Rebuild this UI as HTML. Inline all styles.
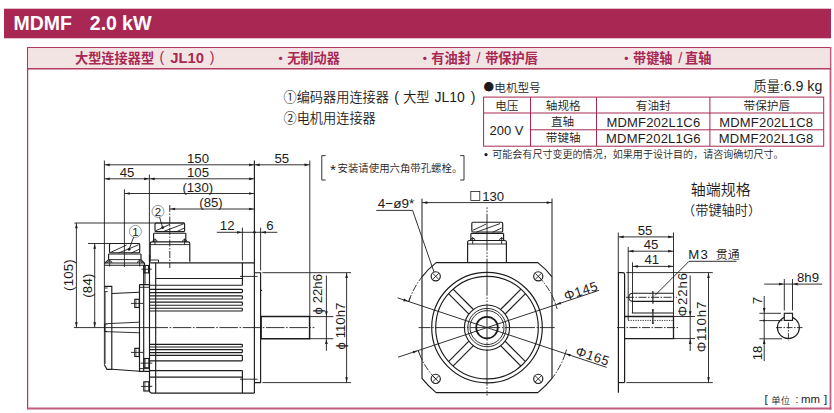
<!DOCTYPE html>
<html lang="zh"><head><meta charset="utf-8"><title>MDMF 2.0 kW</title>
<style>
html,body{margin:0;padding:0;background:#fff;}
body{width:834px;height:413px;overflow:hidden;}
svg{display:block;font-family:"Liberation Sans","Noto Sans CJK SC",sans-serif;font-weight:350;}
</style></head><body>
<svg width="834" height="413" viewBox="0 0 834 413">
<rect x="4" y="8.7" width="827" height="29.6" fill="#a82853"/>
<text x="13.40" y="30.30" font-size="19.5" text-anchor="start" fill="#fff" font-weight="bold">MDMF</text>
<text x="89.80" y="30.30" font-size="19.5" text-anchor="start" fill="#fff" font-weight="bold">2.0</text>
<text x="121.90" y="30.30" font-size="19.8" text-anchor="start" fill="#fff" font-weight="bold">kW</text>
<line x1="27.60" y1="46.90" x2="27.60" y2="409.60" stroke="#ae3860" stroke-width="1.25"/>
<line x1="27.00" y1="47.50" x2="831.20" y2="47.50" stroke="#ae3860" stroke-width="1.25"/>
<line x1="830.50" y1="46.90" x2="830.50" y2="409.60" stroke="#c25d80" stroke-width="1.8"/>
<line x1="27.00" y1="408.60" x2="831.40" y2="408.60" stroke="#c25d80" stroke-width="2.0"/>
<rect x="28.2" y="48.1" width="801.4" height="20" fill="#f3e4e4"/>
<line x1="27.70" y1="68.70" x2="830.50" y2="68.70" stroke="#b23d64" stroke-width="1.4"/>
<text x="75.00" y="62.60" font-size="13.2" text-anchor="start" fill="#a82853" font-weight="bold">大型连接器型</text>
<text x="159.60" y="62.20" font-size="14" text-anchor="start" fill="#a82853">(</text>
<text x="170.20" y="62.60" font-size="14.8" text-anchor="start" fill="#a82853" font-weight="bold">JL10</text>
<text x="209.80" y="62.20" font-size="14" text-anchor="start" fill="#a82853">)</text>
<text x="274.00" y="62.60" font-size="13.2" text-anchor="start" fill="#a82853" font-weight="bold">・无制动器</text>
<text x="418.20" y="62.60" font-size="13.2" text-anchor="start" fill="#a82853" font-weight="bold">・有油封</text>
<text x="478.60" y="62.60" font-size="14.5" text-anchor="middle" fill="#a82853">/</text>
<text x="485.20" y="62.60" font-size="13.2" text-anchor="start" fill="#a82853" font-weight="bold">带保护唇</text>
<text x="619.80" y="62.60" font-size="13.2" text-anchor="start" fill="#a82853" font-weight="bold">・带键轴</text>
<text x="680.20" y="62.60" font-size="14.5" text-anchor="middle" fill="#a82853">/</text>
<text x="685.00" y="62.60" font-size="13.2" text-anchor="start" fill="#a82853" font-weight="bold">直轴</text>
<text x="283.50" y="101.80" font-size="13.2" text-anchor="start" fill="#1d1b1b">①编码器用连接器</text>
<text x="394.20" y="101.60" font-size="14" text-anchor="start" fill="#1d1b1b">(</text>
<text x="403.20" y="101.80" font-size="13.2" text-anchor="start" fill="#1d1b1b">大型</text>
<text x="434.40" y="101.80" font-size="14" text-anchor="start" fill="#1d1b1b">JL10</text>
<text x="470.80" y="101.60" font-size="14" text-anchor="start" fill="#1d1b1b">)</text>
<text x="283.50" y="123.40" font-size="13.2" text-anchor="start" fill="#1d1b1b">②电机用连接器</text>
<text x="483.60" y="91.30" font-size="10.5" text-anchor="start" fill="#1d1b1b" font-family="Noto Sans CJK SC,sans-serif">●</text>
<text x="494.30" y="91.50" font-size="11.6" text-anchor="start" fill="#1d1b1b">电机型号</text>
<text x="822.30" y="90.60" font-size="13.2" text-anchor="end" fill="#1d1b1b">质量:<tspan font-size="14.2">6.9 kg</tspan></text>
<rect x="483.60" y="97.10" width="340.10" height="49.10" rx="0" fill="none" stroke="#a82853" stroke-width="1.0"/>
<line x1="483.60" y1="113.00" x2="823.70" y2="113.00" stroke="#a82853" stroke-width="1.0"/>
<line x1="530.50" y1="129.80" x2="823.70" y2="129.80" stroke="#a82853" stroke-width="1.0"/>
<line x1="530.50" y1="97.10" x2="530.50" y2="146.20" stroke="#a82853" stroke-width="1.0"/>
<line x1="596.50" y1="97.10" x2="596.50" y2="146.20" stroke="#a82853" stroke-width="1.0"/>
<line x1="709.90" y1="97.10" x2="709.90" y2="146.20" stroke="#a82853" stroke-width="1.0"/>
<text x="506.80" y="109.50" font-size="11.6" text-anchor="middle" fill="#1d1b1b">电压</text>
<text x="563.20" y="109.50" font-size="11.6" text-anchor="middle" fill="#1d1b1b">轴规格</text>
<text x="653.20" y="109.50" font-size="11.6" text-anchor="middle" fill="#1d1b1b">有油封</text>
<text x="766.80" y="109.50" font-size="11.6" text-anchor="middle" fill="#1d1b1b">带保护唇</text>
<text x="506.50" y="135.20" font-size="13" text-anchor="middle" fill="#1d1b1b">200 V</text>
<text x="562.60" y="126.40" font-size="11.6" text-anchor="middle" fill="#1d1b1b">直轴</text>
<text x="563.20" y="142.40" font-size="11.6" text-anchor="middle" fill="#1d1b1b">带键轴</text>
<text x="653.40" y="126.60" font-size="13" text-anchor="middle" fill="#1d1b1b" letter-spacing="0.2">MDMF202L1C6</text>
<text x="766.20" y="126.60" font-size="13" text-anchor="middle" fill="#1d1b1b" letter-spacing="0.2">MDMF202L1C8</text>
<text x="653.40" y="143.00" font-size="13" text-anchor="middle" fill="#1d1b1b" letter-spacing="0.2">MDMF202L1G6</text>
<text x="766.20" y="143.00" font-size="13" text-anchor="middle" fill="#1d1b1b" letter-spacing="0.2">MDMF202L1G8</text>
<circle cx="486.00" cy="154.60" r="1.60" fill="#1d1b1b" stroke="#1d1b1b" stroke-width="0"/>
<text x="492.20" y="158.00" font-size="10.05" text-anchor="start" fill="#1d1b1b">可能会有尺寸变更的情况，如果用于设计目的，请咨询确切尺寸。</text>
<path d="M325.6,155.6 H321.8 V180 H325.6" fill="none" stroke="#1d1b1b" stroke-width="0.9"/>
<path d="M460.2,155.6 H464 V180 H460.2" fill="none" stroke="#1d1b1b" stroke-width="0.9"/>
<text x="330.00" y="175.20" font-size="15.5" text-anchor="start" fill="#1d1b1b">*</text>
<text x="337.60" y="171.60" font-size="10.4" text-anchor="start" fill="#1d1b1b">安装请使用六角带孔螺栓。</text>
<text x="764.40" y="403.40" font-size="11.5" text-anchor="start" fill="#1d1b1b">[</text>
<text x="771.30" y="403.60" font-size="9.4" text-anchor="start" fill="#1d1b1b">单位</text>
<text x="797.00" y="402.80" font-size="10.5" text-anchor="middle" fill="#1d1b1b">:</text>
<text x="801.00" y="403.40" font-size="11.4" text-anchor="start" fill="#1d1b1b">mm</text>
<text x="823.90" y="403.40" font-size="11.5" text-anchor="start" fill="#1d1b1b">]</text>
<line x1="104.40" y1="160.50" x2="104.40" y2="364.70" stroke="#1d1b1b" stroke-width="0.9"/>
<line x1="149.40" y1="174.60" x2="149.40" y2="262.00" stroke="#1d1b1b" stroke-width="0.9"/>
<line x1="124.40" y1="189.30" x2="124.40" y2="267.00" stroke="#1d1b1b" stroke-width="0.9"/>
<line x1="169.80" y1="205.00" x2="169.80" y2="268.00" stroke="#1d1b1b" stroke-width="0.9" stroke-dasharray="7 1.5 1.5 1.5"/>
<line x1="254.40" y1="160.50" x2="254.40" y2="393.00" stroke="#1d1b1b" stroke-width="1.15"/>
<line x1="309.80" y1="160.50" x2="309.80" y2="316.00" stroke="#1d1b1b" stroke-width="0.9"/>
<line x1="242.40" y1="227.70" x2="242.40" y2="260.40" stroke="#1d1b1b" stroke-width="0.9"/>
<line x1="260.60" y1="227.70" x2="260.60" y2="270.50" stroke="#1d1b1b" stroke-width="0.9"/>
<line x1="104.40" y1="164.80" x2="254.40" y2="164.80" stroke="#1d1b1b" stroke-width="0.9"/>
<polygon points="105.10,164.80 109.70,163.45 109.70,166.15" fill="#1d1b1b"/>
<polygon points="253.70,164.80 249.10,166.15 249.10,163.45" fill="#1d1b1b"/>
<text x="198.00" y="162.80" font-size="13.2" text-anchor="middle" fill="#1d1b1b">150</text>
<line x1="254.40" y1="164.80" x2="309.80" y2="164.80" stroke="#1d1b1b" stroke-width="0.9"/>
<polygon points="255.10,164.80 259.70,163.45 259.70,166.15" fill="#1d1b1b"/>
<polygon points="309.10,164.80 304.50,166.15 304.50,163.45" fill="#1d1b1b"/>
<text x="281.80" y="162.80" font-size="13.2" text-anchor="middle" fill="#1d1b1b">55</text>
<line x1="104.40" y1="178.80" x2="149.40" y2="178.80" stroke="#1d1b1b" stroke-width="0.9"/>
<polygon points="105.10,178.80 109.70,177.45 109.70,180.15" fill="#1d1b1b"/>
<polygon points="148.70,178.80 144.10,180.15 144.10,177.45" fill="#1d1b1b"/>
<text x="127.00" y="176.80" font-size="13.2" text-anchor="middle" fill="#1d1b1b">45</text>
<line x1="149.40" y1="178.80" x2="254.40" y2="178.80" stroke="#1d1b1b" stroke-width="0.9"/>
<polygon points="150.10,178.80 154.70,177.45 154.70,180.15" fill="#1d1b1b"/>
<polygon points="253.70,178.80 249.10,180.15 249.10,177.45" fill="#1d1b1b"/>
<text x="198.00" y="176.80" font-size="13.2" text-anchor="middle" fill="#1d1b1b">105</text>
<line x1="124.40" y1="193.50" x2="254.40" y2="193.50" stroke="#1d1b1b" stroke-width="0.9"/>
<polygon points="125.10,193.50 129.70,192.15 129.70,194.85" fill="#1d1b1b"/>
<polygon points="253.70,193.50 249.10,194.85 249.10,192.15" fill="#1d1b1b"/>
<text x="197.80" y="191.60" font-size="13.2" text-anchor="middle" fill="#1d1b1b">(130)</text>
<line x1="169.80" y1="209.00" x2="254.40" y2="209.00" stroke="#1d1b1b" stroke-width="0.9"/>
<polygon points="170.50,209.00 175.10,207.65 175.10,210.35" fill="#1d1b1b"/>
<polygon points="253.70,209.00 249.10,210.35 249.10,207.65" fill="#1d1b1b"/>
<text x="211.00" y="207.20" font-size="13.2" text-anchor="middle" fill="#1d1b1b">(85)</text>
<line x1="216.80" y1="232.30" x2="277.30" y2="232.30" stroke="#1d1b1b" stroke-width="0.9"/>
<polygon points="241.70,232.30 237.10,233.65 237.10,230.95" fill="#1d1b1b"/>
<polygon points="261.30,232.30 265.90,230.95 265.90,233.65" fill="#1d1b1b"/>
<circle cx="254.40" cy="232.30" r="1.30" fill="#1d1b1b" stroke="#1d1b1b" stroke-width="0"/>
<text x="227.20" y="230.30" font-size="13.2" text-anchor="middle" fill="#1d1b1b">12</text>
<text x="270.00" y="230.30" font-size="13.2" text-anchor="middle" fill="#1d1b1b">6</text>
<line x1="74.40" y1="223.00" x2="184.60" y2="223.00" stroke="#1d1b1b" stroke-width="0.9"/>
<line x1="88.00" y1="243.50" x2="139.70" y2="243.50" stroke="#1d1b1b" stroke-width="0.9"/>
<line x1="76.40" y1="223.00" x2="76.40" y2="327.60" stroke="#1d1b1b" stroke-width="0.9"/>
<polygon points="76.40,223.70 77.75,228.30 75.05,228.30" fill="#1d1b1b"/>
<polygon points="76.40,326.90 75.05,322.30 77.75,322.30" fill="#1d1b1b"/>
<line x1="94.70" y1="243.50" x2="94.70" y2="327.60" stroke="#1d1b1b" stroke-width="0.9"/>
<polygon points="94.70,244.20 96.05,248.80 93.35,248.80" fill="#1d1b1b"/>
<polygon points="94.70,326.90 93.35,322.30 96.05,322.30" fill="#1d1b1b"/>
<text x="72.90" y="275.00" font-size="13.2" text-anchor="middle" fill="#1d1b1b" transform="rotate(-90 72.90 275.00)" letter-spacing="0.2">(105)</text>
<text x="91.80" y="285.60" font-size="13.2" text-anchor="middle" fill="#1d1b1b" transform="rotate(-90 91.80 285.60)" letter-spacing="0.2">(84)</text>
<line x1="73.90" y1="327.60" x2="168.00" y2="327.60" stroke="#1d1b1b" stroke-width="0.9"/>
<line x1="169.60" y1="327.60" x2="314.40" y2="327.60" stroke="#1d1b1b" stroke-width="0.9" stroke-dasharray="1.6 1.6 18.5 1.6"/>
<rect x="109.50" y="243.50" width="30.20" height="9.20" rx="1" fill="none" stroke="#1d1b1b" stroke-width="1.15"/>
<line x1="110.60" y1="252.40" x2="126.60" y2="245.00" stroke="#1d1b1b" stroke-width="0.9"/>
<line x1="118.50" y1="253.00" x2="138.60" y2="244.80" stroke="#1d1b1b" stroke-width="0.9"/>
<line x1="131.20" y1="253.00" x2="139.00" y2="249.40" stroke="#1d1b1b" stroke-width="0.9"/>
<path d="M108.6,254 V259.6 M141,254 V259.6 M108.6,254 H141 M108.6,259.6 L105,263 M141,259.6 L144,263" fill="none" stroke="#1d1b1b" stroke-width="1.15"/>
<line x1="108.60" y1="259.60" x2="141.00" y2="259.60" stroke="#1d1b1b" stroke-width="0.9"/>
<path d="M104.4,263 H144.5 V265.2 H104.4" fill="none" stroke="#1d1b1b" stroke-width="1.15"/>
<path d="M107.6,263 A2.2,2.2 0 0 1 112,263 M137.4,263 A2.2,2.2 0 0 1 141.8,263" fill="none" stroke="#1d1b1b" stroke-width="0.9"/>
<line x1="109.70" y1="259.00" x2="109.70" y2="266.50" stroke="#1d1b1b" stroke-width="0.9"/>
<line x1="139.70" y1="259.00" x2="139.70" y2="266.50" stroke="#1d1b1b" stroke-width="0.9"/>
<circle cx="135.40" cy="231.40" r="6.00" fill="none" stroke="#555" stroke-width="0.6"/>
<text x="135.40" y="235.60" font-size="11.5" text-anchor="middle" fill="#1d1b1b">1</text>
<line x1="133.60" y1="237.20" x2="129.20" y2="249.00" stroke="#1d1b1b" stroke-width="0.9"/>
<circle cx="129.10" cy="249.30" r="1.40" fill="#1d1b1b" stroke="#1d1b1b" stroke-width="0"/>
<rect x="155.00" y="223.00" width="29.60" height="8.60" rx="1" fill="none" stroke="#1d1b1b" stroke-width="1.15"/>
<line x1="155.60" y1="230.80" x2="170.20" y2="224.20" stroke="#1d1b1b" stroke-width="0.9"/>
<line x1="163.40" y1="231.50" x2="183.70" y2="223.80" stroke="#1d1b1b" stroke-width="0.9"/>
<line x1="177.00" y1="231.50" x2="184.00" y2="228.20" stroke="#1d1b1b" stroke-width="0.9"/>
<path d="M153.6,233.2 V242 M185.8,233.2 V242 M153.6,233.2 H185.8" fill="none" stroke="#1d1b1b" stroke-width="1.15"/>
<path d="M150.2,261.8 V243.5 Q150.2,241.8 152,241.8 H188 Q189.8,241.8 189.8,243.5 V261.8" fill="none" stroke="#1d1b1b" stroke-width="1.15"/>
<line x1="150.20" y1="244.60" x2="189.80" y2="244.60" stroke="#1d1b1b" stroke-width="0.9"/>
<path d="M152.8,241.8 A2.2,2.2 0 0 1 157.2,241.8 M182.4,241.8 A2.2,2.2 0 0 1 186.8,241.8" fill="none" stroke="#1d1b1b" stroke-width="0.9"/>
<line x1="155.00" y1="238.50" x2="155.00" y2="245.00" stroke="#1d1b1b" stroke-width="0.9"/>
<line x1="184.60" y1="238.50" x2="184.60" y2="245.00" stroke="#1d1b1b" stroke-width="0.9"/>
<circle cx="158.00" cy="211.40" r="6.00" fill="none" stroke="#555" stroke-width="0.6"/>
<text x="158.00" y="215.60" font-size="11.5" text-anchor="middle" fill="#1d1b1b">2</text>
<line x1="159.60" y1="217.20" x2="162.50" y2="227.20" stroke="#1d1b1b" stroke-width="0.9"/>
<circle cx="162.70" cy="227.60" r="1.40" fill="#1d1b1b" stroke="#1d1b1b" stroke-width="0"/>
<line x1="150.20" y1="262.80" x2="254.40" y2="262.80" stroke="#1d1b1b" stroke-width="1.15"/>
<path d="M151,260 H158.5 V262.8" fill="none" stroke="#1d1b1b" stroke-width="0.9"/>
<line x1="155.70" y1="262.80" x2="155.70" y2="393.00" stroke="#1d1b1b" stroke-width="1.15"/>
<path d="M149.5,255 V391.6 L151.5,393.1 H254.4" fill="none" stroke="#1d1b1b" stroke-width="1.15"/>
<line x1="155.70" y1="278.50" x2="242.40" y2="278.50" stroke="#1d1b1b" stroke-width="1.15"/>
<line x1="149.50" y1="285.20" x2="242.40" y2="285.20" stroke="#1d1b1b" stroke-width="1.15"/>
<line x1="242.40" y1="262.80" x2="242.40" y2="285.20" stroke="#1d1b1b" stroke-width="1.15"/>
<path d="M149.5,289.4 H241.6 Q242.4,289.4 242.4,290.2 V291.8 Q242.4,292.6 241.6,292.6 H149.5" fill="none" stroke="#1d1b1b" stroke-width="1.15"/>
<path d="M149.5,295.8 H241.6 Q242.4,295.8 242.4,296.6 V298.2 Q242.4,299 241.6,299 H149.5" fill="none" stroke="#1d1b1b" stroke-width="1.15"/>
<path d="M149.5,302.1 H241.6 Q242.4,302.1 242.4,302.90000000000003 V304.4 Q242.4,305.2 241.6,305.2 H149.5" fill="none" stroke="#1d1b1b" stroke-width="1.15"/>
<path d="M149.5,308.2 H241.6 Q242.4,308.2 242.4,309.0 V310.2 Q242.4,311 241.6,311 H149.5" fill="none" stroke="#1d1b1b" stroke-width="1.15"/>
<path d="M149.5,344.3 H241.6 Q242.4,344.3 242.4,345.1 V346.2 Q242.4,347 241.6,347 H149.5" fill="none" stroke="#1d1b1b" stroke-width="1.15"/>
<path d="M149.5,349.6 H241.6 Q242.4,349.6 242.4,350.40000000000003 V351.8 Q242.4,352.6 241.6,352.6 H149.5" fill="none" stroke="#1d1b1b" stroke-width="1.15"/>
<path d="M149.5,355.4 H241.6 Q242.4,355.4 242.4,356.2 V360.0 Q242.4,360.8 241.6,360.8 H149.5" fill="none" stroke="#1d1b1b" stroke-width="1.15"/>
<line x1="149.50" y1="370.60" x2="242.40" y2="370.60" stroke="#1d1b1b" stroke-width="1.15"/>
<line x1="149.50" y1="377.10" x2="242.40" y2="377.10" stroke="#1d1b1b" stroke-width="1.15"/>
<line x1="242.40" y1="370.60" x2="242.40" y2="393.10" stroke="#1d1b1b" stroke-width="1.15"/>
<line x1="240.00" y1="276.40" x2="257.60" y2="276.40" stroke="#1d1b1b" stroke-width="0.9"/>
<line x1="240.00" y1="379.20" x2="257.60" y2="379.20" stroke="#1d1b1b" stroke-width="0.9"/>
<path d="M254.4,272.7 H260.6 V382.6 H254.4" fill="none" stroke="#1d1b1b" stroke-width="1.15"/>
<line x1="262.40" y1="272.70" x2="351.00" y2="272.70" stroke="#1d1b1b" stroke-width="0.9"/>
<line x1="262.40" y1="382.60" x2="351.00" y2="382.60" stroke="#1d1b1b" stroke-width="0.9"/>
<line x1="260.60" y1="290.30" x2="262.00" y2="290.30" stroke="#1d1b1b" stroke-width="1.15"/>
<path d="M260.6,316.6 H309.6 V338.7 H260.6" fill="none" stroke="#1d1b1b" stroke-width="1.5"/>
<line x1="261.10" y1="316.60" x2="261.10" y2="338.70" stroke="#1d1b1b" stroke-width="1.5"/>
<line x1="309.40" y1="316.60" x2="333.30" y2="316.60" stroke="#1d1b1b" stroke-width="0.9"/>
<line x1="309.40" y1="338.70" x2="333.30" y2="338.70" stroke="#1d1b1b" stroke-width="0.9"/>
<line x1="326.40" y1="275.50" x2="326.40" y2="350.80" stroke="#1d1b1b" stroke-width="0.9"/>
<polygon points="326.40,315.90 325.05,311.30 327.75,311.30" fill="#1d1b1b"/>
<polygon points="326.40,339.40 327.75,344.00 325.05,344.00" fill="#1d1b1b"/>
<text x="322.20" y="294.20" font-size="13.2" text-anchor="middle" fill="#1d1b1b" transform="rotate(-90 322.20 294.20)">ϕ 22h6</text>
<line x1="346.60" y1="272.70" x2="346.60" y2="382.60" stroke="#1d1b1b" stroke-width="0.9"/>
<polygon points="346.60,273.40 347.95,278.00 345.25,278.00" fill="#1d1b1b"/>
<polygon points="346.60,381.90 345.25,377.30 347.95,377.30" fill="#1d1b1b"/>
<text x="344.60" y="326.00" font-size="13.2" text-anchor="middle" fill="#1d1b1b" transform="rotate(-90 344.60 326.00)">ϕ 110h7</text>
<path d="M104.4,286.4 H111.8 V369.3 H107 L104.4,364.7" fill="none" stroke="#1d1b1b" stroke-width="1.15"/>
<line x1="105.30" y1="292.00" x2="105.30" y2="364.00" stroke="#1d1b1b" stroke-width="0.6"/>
<line x1="104.40" y1="288.00" x2="107.70" y2="288.00" stroke="#1d1b1b" stroke-width="0.9"/>
<line x1="104.40" y1="291.60" x2="107.70" y2="291.60" stroke="#1d1b1b" stroke-width="0.9"/>
<line x1="111.80" y1="293.50" x2="139.50" y2="292.20" stroke="#1d1b1b" stroke-width="1.15"/>
<line x1="111.80" y1="369.30" x2="139.90" y2="371.30" stroke="#1d1b1b" stroke-width="1.15"/>
<path d="M107.7,323.8 H106 Q104.6,323.8 104.6,325.4 V330 Q104.6,331.6 106,331.6 H107.7" fill="none" stroke="#1d1b1b" stroke-width="1.15"/>
<line x1="107.70" y1="323.60" x2="139.50" y2="322.20" stroke="#1d1b1b" stroke-width="0.9"/>
<line x1="107.70" y1="331.70" x2="139.50" y2="332.80" stroke="#1d1b1b" stroke-width="0.9"/>
<path d="M139.5,284.6 H149.5 M139.5,284.6 V371.3 H149.5 M143.7,265.2 V371.3" fill="none" stroke="#1d1b1b" stroke-width="1.15"/>
<line x1="139.50" y1="287.30" x2="149.50" y2="287.30" stroke="#1d1b1b" stroke-width="0.9"/>
<line x1="139.50" y1="368.60" x2="149.50" y2="368.60" stroke="#1d1b1b" stroke-width="0.9"/>
<line x1="145.00" y1="265.20" x2="145.00" y2="284.60" stroke="#1d1b1b" stroke-width="0.9"/>
<rect x="134.80" y="299.30" width="4.40" height="8.20" rx="0" fill="none" stroke="#1d1b1b" stroke-width="1.15"/>
<line x1="131.00" y1="303.40" x2="143.00" y2="303.40" stroke="#1d1b1b" stroke-width="0.9"/>
<line x1="136.10" y1="299.30" x2="136.10" y2="307.50" stroke="#1d1b1b" stroke-width="0.5"/>
<rect x="134.80" y="348.30" width="4.40" height="8.20" rx="0" fill="none" stroke="#1d1b1b" stroke-width="1.15"/>
<line x1="131.00" y1="352.40" x2="143.00" y2="352.40" stroke="#1d1b1b" stroke-width="0.9"/>
<line x1="136.10" y1="348.30" x2="136.10" y2="356.50" stroke="#1d1b1b" stroke-width="0.5"/>
<rect x="144.10" y="265.50" width="4.50" height="7.40" rx="0" fill="none" stroke="#1d1b1b" stroke-width="1.15"/>
<line x1="141.60" y1="269.20" x2="151.80" y2="269.20" stroke="#1d1b1b" stroke-width="0.9"/>
<line x1="145.40" y1="265.50" x2="145.40" y2="272.90" stroke="#1d1b1b" stroke-width="0.5"/>
<rect x="144.10" y="358.50" width="4.80" height="9.30" rx="0" fill="none" stroke="#1d1b1b" stroke-width="1.15"/>
<line x1="140.60" y1="363.15" x2="152.30" y2="363.15" stroke="#1d1b1b" stroke-width="0.9"/>
<line x1="145.40" y1="358.50" x2="145.40" y2="367.80" stroke="#1d1b1b" stroke-width="0.5"/>
<rect x="143.80" y="381.80" width="5.10" height="9.20" rx="0" fill="none" stroke="#1d1b1b" stroke-width="1.15"/>
<line x1="141.00" y1="386.40" x2="152.30" y2="386.40" stroke="#1d1b1b" stroke-width="0.9"/>
<line x1="145.10" y1="381.80" x2="145.10" y2="391.00" stroke="#1d1b1b" stroke-width="0.5"/>
<line x1="422.00" y1="198.60" x2="422.00" y2="276.79" stroke="#1d1b1b" stroke-width="1.0"/>
<line x1="552.00" y1="198.60" x2="552.00" y2="276.79" stroke="#1d1b1b" stroke-width="1.0"/>
<line x1="422.00" y1="202.60" x2="552.00" y2="202.60" stroke="#1d1b1b" stroke-width="0.9"/>
<polygon points="422.70,202.60 427.30,201.25 427.30,203.95" fill="#1d1b1b"/>
<polygon points="551.30,202.60 546.70,203.95 546.70,201.25" fill="#1d1b1b"/>
<rect x="470.80" y="191.40" width="9.00" height="9.00" rx="0" fill="none" stroke="#1d1b1b" stroke-width="0.8"/>
<text x="482.20" y="200.80" font-size="13.2" text-anchor="start" fill="#1d1b1b">130</text>
<path d="M436.19,262.6 H537.81 A82.5,82.5 0 0 1 552.0,276.79 V378.41 A82.5,82.5 0 0 1 537.81,392.6 H436.19 A82.5,82.5 0 0 1 422.0,378.41 V276.79 A82.5,82.5 0 0 1 436.19,262.6 Z" fill="none" stroke="#1d1b1b" stroke-width="1.15"/>
<circle cx="487.00" cy="327.60" r="55.30" fill="none" stroke="#1d1b1b" stroke-width="1.15"/>
<circle cx="487.00" cy="327.60" r="51.30" fill="none" stroke="#1d1b1b" stroke-width="1.15"/>
<circle cx="487.00" cy="327.60" r="22.60" fill="none" stroke="#1d1b1b" stroke-width="1.15"/>
<circle cx="487.00" cy="327.60" r="19.20" fill="none" stroke="#1d1b1b" stroke-width="0.9"/>
<circle cx="487.00" cy="327.60" r="17.00" fill="none" stroke="#1d1b1b" stroke-width="0.9"/>
<circle cx="487.00" cy="327.60" r="10.80" fill="none" stroke="#1d1b1b" stroke-width="1.7"/>
<line x1="505.08" y1="341.16" x2="525.47" y2="361.54" stroke="#1d1b1b" stroke-width="1.15"/>
<line x1="500.56" y1="345.68" x2="520.94" y2="366.07" stroke="#1d1b1b" stroke-width="1.15"/>
<line x1="473.44" y1="345.68" x2="453.06" y2="366.07" stroke="#1d1b1b" stroke-width="1.15"/>
<line x1="468.92" y1="341.16" x2="448.53" y2="361.54" stroke="#1d1b1b" stroke-width="1.15"/>
<line x1="468.92" y1="314.04" x2="448.53" y2="293.66" stroke="#1d1b1b" stroke-width="1.15"/>
<line x1="473.44" y1="309.52" x2="453.06" y2="289.13" stroke="#1d1b1b" stroke-width="1.15"/>
<line x1="500.56" y1="309.52" x2="520.94" y2="289.13" stroke="#1d1b1b" stroke-width="1.15"/>
<line x1="505.08" y1="314.04" x2="525.47" y2="293.66" stroke="#1d1b1b" stroke-width="1.15"/>
<circle cx="435.73" cy="276.33" r="4.60" fill="none" stroke="#1d1b1b" stroke-width="1.15"/>
<line x1="432.63" y1="273.23" x2="438.83" y2="279.43" stroke="#1d1b1b" stroke-width="0.9"/>
<line x1="432.63" y1="279.43" x2="438.83" y2="273.23" stroke="#1d1b1b" stroke-width="0.9"/>
<circle cx="435.73" cy="378.87" r="4.60" fill="none" stroke="#1d1b1b" stroke-width="1.15"/>
<line x1="432.63" y1="375.77" x2="438.83" y2="381.97" stroke="#1d1b1b" stroke-width="0.9"/>
<line x1="432.63" y1="381.97" x2="438.83" y2="375.77" stroke="#1d1b1b" stroke-width="0.9"/>
<circle cx="538.27" cy="276.33" r="4.60" fill="none" stroke="#1d1b1b" stroke-width="1.15"/>
<line x1="535.17" y1="273.23" x2="541.37" y2="279.43" stroke="#1d1b1b" stroke-width="0.9"/>
<line x1="535.17" y1="279.43" x2="541.37" y2="273.23" stroke="#1d1b1b" stroke-width="0.9"/>
<circle cx="538.27" cy="378.87" r="4.60" fill="none" stroke="#1d1b1b" stroke-width="1.15"/>
<line x1="535.17" y1="375.77" x2="541.37" y2="381.97" stroke="#1d1b1b" stroke-width="0.9"/>
<line x1="535.17" y1="381.97" x2="541.37" y2="375.77" stroke="#1d1b1b" stroke-width="0.9"/>
<line x1="487.00" y1="207.30" x2="487.00" y2="395.50" stroke="#1d1b1b" stroke-width="0.9" stroke-dasharray="1.6 1.6 1.6 1.6 37 1.6"/>
<line x1="418.60" y1="327.60" x2="554.70" y2="327.60" stroke="#1d1b1b" stroke-width="0.9" stroke-dasharray="12 1.6 1.6 1.6 30 1.6 1.6 1.6 30 1.6 1.6 1.6 30 1.6 1.6 1.6 30 1.6"/>
<path d="M538.27,276.33 A72.5,72.5 0 0 1 555.79,304.72" fill="none" stroke="#1d1b1b" stroke-width="0.9" stroke-dasharray="7 1.5 1.5 1.5"/>
<path d="M435.73,378.87 A72.5,72.5 0 0 1 418.21,350.48" fill="none" stroke="#1d1b1b" stroke-width="0.9" stroke-dasharray="7 1.5 1.5 1.5"/>
<path d="M565.28,353.64 A82.5,82.5 0 0 1 552.01,378.39" fill="none" stroke="#1d1b1b" stroke-width="0.9" stroke-dasharray="7 1.5 1.5 1.5"/>
<path d="M408.72,301.56 A82.5,82.5 0 0 1 421.99,276.81" fill="none" stroke="#1d1b1b" stroke-width="0.9" stroke-dasharray="7 1.5 1.5 1.5"/>
<line x1="398.00" y1="357.21" x2="599.16" y2="290.29" stroke="#1d1b1b" stroke-width="0.9"/>
<polygon points="417.54,350.71 413.60,353.44 412.75,350.88" fill="#1d1b1b"/>
<polygon points="556.46,304.49 560.40,301.76 561.25,304.32" fill="#1d1b1b"/>
<line x1="397.52" y1="297.83" x2="606.65" y2="367.40" stroke="#1d1b1b" stroke-width="0.9"/>
<polygon points="408.05,301.34 403.26,301.17 404.11,298.61" fill="#1d1b1b"/>
<polygon points="565.95,353.86 570.74,354.03 569.89,356.59" fill="#1d1b1b"/>
<path d="M566.54,349.51 A82.5,82.5 0 0 1 565.24,353.78" fill="none" stroke="#1d1b1b" stroke-width="0.9"/>
<path d="M408.67,301.70 A82.5,82.5 0 0 1 410.19,297.50" fill="none" stroke="#1d1b1b" stroke-width="0.9"/>
<path d="M555.75,304.60 A72.5,72.5 0 0 1 557.06,308.96" fill="none" stroke="#1d1b1b" stroke-width="0.9"/>
<path d="M419.73,354.64 A72.5,72.5 0 0 1 418.17,350.36" fill="none" stroke="#1d1b1b" stroke-width="0.9"/>
<text x="582.40" y="295.20" font-size="13.2" text-anchor="middle" fill="#1d1b1b" transform="rotate(-18.4 582.40 295.20)" letter-spacing="0.6">Φ145</text>
<text x="591.30" y="360.50" font-size="13.2" text-anchor="middle" fill="#1d1b1b" transform="rotate(18.4 591.30 360.50)" letter-spacing="0.6">Φ165</text>
<text x="377.80" y="208.20" font-size="13.5" text-anchor="start" fill="#1d1b1b">4−ø9*</text>
<path d="M376.3,210.4 H412.6 L434.03,272.03" fill="none" stroke="#1d1b1b" stroke-width="0.9"/>
<rect x="471.80" y="222.20" width="30.90" height="9.80" rx="1.2" fill="none" stroke="#1d1b1b" stroke-width="1.15"/>
<line x1="472.70" y1="230.40" x2="486.30" y2="224.00" stroke="#1d1b1b" stroke-width="0.9"/>
<line x1="476.30" y1="232.20" x2="500.00" y2="223.60" stroke="#1d1b1b" stroke-width="0.9"/>
<line x1="492.70" y1="232.20" x2="501.60" y2="228.00" stroke="#1d1b1b" stroke-width="0.9"/>
<path d="M470.9,233.4 V240.6 M503.6,233.4 V240.6 M470.9,233.4 H503.6" fill="none" stroke="#1d1b1b" stroke-width="1.15"/>
<path d="M467.6,262.6 V242.2 Q467.6,240.5 469.4,240.5 H504.6 Q506.4,240.5 506.4,242.2 V262.6" fill="none" stroke="#1d1b1b" stroke-width="1.15"/>
<line x1="467.60" y1="244.00" x2="506.40" y2="244.00" stroke="#1d1b1b" stroke-width="0.9"/>
<path d="M470.4,240.5 A2.3,2.3 0 0 1 475,240.5 M499.4,240.5 A2.3,2.3 0 0 1 504,240.5" fill="none" stroke="#1d1b1b" stroke-width="0.9"/>
<line x1="472.70" y1="237.00" x2="472.70" y2="244.00" stroke="#1d1b1b" stroke-width="0.9"/>
<line x1="501.70" y1="237.00" x2="501.70" y2="244.00" stroke="#1d1b1b" stroke-width="0.9"/>
<text x="720.80" y="195.40" font-size="15" text-anchor="middle" fill="#1d1b1b">轴端规格</text>
<text x="721.60" y="215.20" font-size="13.2" text-anchor="middle" fill="#1d1b1b">（带键轴时）</text>
<line x1="618.30" y1="232.50" x2="618.30" y2="272.00" stroke="#1d1b1b" stroke-width="0.9"/>
<line x1="618.40" y1="272.00" x2="618.40" y2="392.70" stroke="#1d1b1b" stroke-width="1.2"/>
<line x1="673.50" y1="232.50" x2="673.50" y2="338.60" stroke="#1d1b1b" stroke-width="0.9"/>
<line x1="618.30" y1="236.90" x2="673.50" y2="236.90" stroke="#1d1b1b" stroke-width="0.9"/>
<polygon points="619.00,236.90 623.60,235.55 623.60,238.25" fill="#1d1b1b"/>
<polygon points="672.80,236.90 668.20,238.25 668.20,235.55" fill="#1d1b1b"/>
<text x="645.00" y="235.00" font-size="13.2" text-anchor="middle" fill="#1d1b1b">55</text>
<line x1="628.20" y1="247.00" x2="628.20" y2="313.00" stroke="#1d1b1b" stroke-width="0.9"/>
<line x1="628.20" y1="251.20" x2="673.50" y2="251.20" stroke="#1d1b1b" stroke-width="0.9"/>
<polygon points="628.90,251.20 633.50,249.85 633.50,252.55" fill="#1d1b1b"/>
<polygon points="672.80,251.20 668.20,252.55 668.20,249.85" fill="#1d1b1b"/>
<text x="651.00" y="249.30" font-size="13.2" text-anchor="middle" fill="#1d1b1b">45</text>
<line x1="632.50" y1="262.30" x2="632.50" y2="313.00" stroke="#1d1b1b" stroke-width="0.9"/>
<line x1="632.50" y1="266.40" x2="673.50" y2="266.40" stroke="#1d1b1b" stroke-width="0.9"/>
<polygon points="633.20,266.40 637.80,265.05 637.80,267.75" fill="#1d1b1b"/>
<polygon points="672.80,266.40 668.20,267.75 668.20,265.05" fill="#1d1b1b"/>
<text x="651.80" y="264.40" font-size="13.2" text-anchor="middle" fill="#1d1b1b">41</text>
<text x="688.20" y="259.40" font-size="13.2" text-anchor="start" fill="#1d1b1b" letter-spacing="1.4">M3</text>
<text x="715.80" y="259.40" font-size="11.9" text-anchor="start" fill="#1d1b1b">贯通</text>
<path d="M736.5,261.3 H689 L655,295.4" fill="none" stroke="#1d1b1b" stroke-width="0.9"/>
<path d="M618.4,272.6 H622.8 Q624.6,272.6 624.6,274.4 V382.6" fill="none" stroke="#1d1b1b" stroke-width="1.2"/>
<line x1="618.40" y1="382.60" x2="624.60" y2="382.60" stroke="#1d1b1b" stroke-width="1.15"/>
<line x1="626.30" y1="272.60" x2="712.80" y2="272.60" stroke="#1d1b1b" stroke-width="0.9"/>
<line x1="626.30" y1="382.60" x2="712.80" y2="382.60" stroke="#1d1b1b" stroke-width="0.9"/>
<path d="M673.5,293.2 H632.8 A4.1,4.1 0 0 0 632.8,301.4 H673.5" fill="none" stroke="#1d1b1b" stroke-width="1.15"/>
<line x1="626.00" y1="297.30" x2="677.00" y2="297.30" stroke="#1d1b1b" stroke-width="0.9" stroke-dasharray="8 1.5 1.5 1.5"/>
<line x1="652.90" y1="291.00" x2="652.90" y2="303.80" stroke="#1d1b1b" stroke-width="1.15"/>
<line x1="631.80" y1="313.00" x2="673.50" y2="313.00" stroke="#1d1b1b" stroke-width="1.15"/>
<path d="M624.6,316.5 H673.5 V338.6 H624.6" fill="none" stroke="#1d1b1b" stroke-width="1.3"/>
<line x1="628.20" y1="313.00" x2="628.20" y2="320.30" stroke="#1d1b1b" stroke-width="0.9"/>
<line x1="628.20" y1="320.40" x2="673.50" y2="320.40" stroke="#1d1b1b" stroke-width="0.9" stroke-dasharray="1.2 1.2"/>
<line x1="652.90" y1="309.50" x2="652.90" y2="323.00" stroke="#1d1b1b" stroke-width="1.15"/>
<polygon points="652.90,312.30 651.90,309.30 653.90,309.30" fill="#1d1b1b"/>
<polygon points="652.90,321.10 653.90,324.10 651.90,324.10" fill="#1d1b1b"/>
<line x1="617.00" y1="327.60" x2="678.00" y2="327.60" stroke="#1d1b1b" stroke-width="0.9" stroke-dasharray="8 1.5 1.5 1.5"/>
<line x1="673.50" y1="316.50" x2="695.00" y2="316.50" stroke="#1d1b1b" stroke-width="0.9"/>
<line x1="673.50" y1="338.60" x2="695.00" y2="338.60" stroke="#1d1b1b" stroke-width="0.9"/>
<line x1="690.20" y1="275.40" x2="690.20" y2="351.00" stroke="#1d1b1b" stroke-width="0.9"/>
<polygon points="690.20,315.80 688.85,311.20 691.55,311.20" fill="#1d1b1b"/>
<polygon points="690.20,339.30 691.55,343.90 688.85,343.90" fill="#1d1b1b"/>
<text x="687.40" y="294.30" font-size="13.2" text-anchor="middle" fill="#1d1b1b" transform="rotate(-90 687.40 294.30)" letter-spacing="0.9">Φ22h6</text>
<line x1="708.50" y1="272.60" x2="708.50" y2="382.60" stroke="#1d1b1b" stroke-width="0.9"/>
<polygon points="708.50,273.30 709.85,277.90 707.15,277.90" fill="#1d1b1b"/>
<polygon points="708.50,381.90 707.15,377.30 709.85,377.30" fill="#1d1b1b"/>
<text x="705.60" y="326.50" font-size="13.2" text-anchor="middle" fill="#1d1b1b" transform="rotate(-90 705.60 326.50)" letter-spacing="0.9">Φ110h7</text>
<circle cx="788.40" cy="327.60" r="11.00" fill="none" stroke="#1d1b1b" stroke-width="1.15"/>
<rect x="784.30" y="313.30" width="8.20" height="7.10" rx="0" fill="#fff" stroke="#1d1b1b" stroke-width="1.15"/>
<line x1="776.00" y1="327.60" x2="802.50" y2="327.60" stroke="#1d1b1b" stroke-width="0.9" stroke-dasharray="6 1.5 1.5 1.5"/>
<line x1="788.40" y1="322.60" x2="788.40" y2="341.00" stroke="#1d1b1b" stroke-width="0.9" stroke-dasharray="6 1.5 1.5 1.5"/>
<line x1="784.30" y1="279.00" x2="784.30" y2="310.50" stroke="#1d1b1b" stroke-width="0.9"/>
<line x1="792.50" y1="279.00" x2="792.50" y2="310.50" stroke="#1d1b1b" stroke-width="0.9"/>
<line x1="764.20" y1="284.10" x2="822.30" y2="284.10" stroke="#1d1b1b" stroke-width="0.9"/>
<polygon points="783.60,284.10 779.00,285.45 779.00,282.75" fill="#1d1b1b"/>
<polygon points="793.20,284.10 797.80,282.75 797.80,285.45" fill="#1d1b1b"/>
<text x="808.00" y="282.20" font-size="13.2" text-anchor="middle" fill="#1d1b1b">8h9</text>
<line x1="759.40" y1="313.30" x2="781.00" y2="313.30" stroke="#1d1b1b" stroke-width="0.9"/>
<line x1="759.40" y1="320.60" x2="782.40" y2="320.60" stroke="#1d1b1b" stroke-width="0.9"/>
<line x1="759.40" y1="338.80" x2="782.00" y2="338.80" stroke="#1d1b1b" stroke-width="0.9"/>
<line x1="764.20" y1="296.00" x2="764.20" y2="361.00" stroke="#1d1b1b" stroke-width="0.9"/>
<polygon points="764.20,312.60 762.85,308.00 765.55,308.00" fill="#1d1b1b"/>
<polygon points="764.20,339.50 765.55,344.10 762.85,344.10" fill="#1d1b1b"/>
<circle cx="764.20" cy="320.60" r="1.00" fill="#1d1b1b" stroke="#1d1b1b" stroke-width="0"/>
<text x="762.00" y="300.50" font-size="13.2" text-anchor="middle" fill="#1d1b1b" transform="rotate(-90 762.00 300.50)">7</text>
<text x="762.00" y="353.00" font-size="13.2" text-anchor="middle" fill="#1d1b1b" transform="rotate(-90 762.00 353.00)">18</text>
</svg>
</body></html>
